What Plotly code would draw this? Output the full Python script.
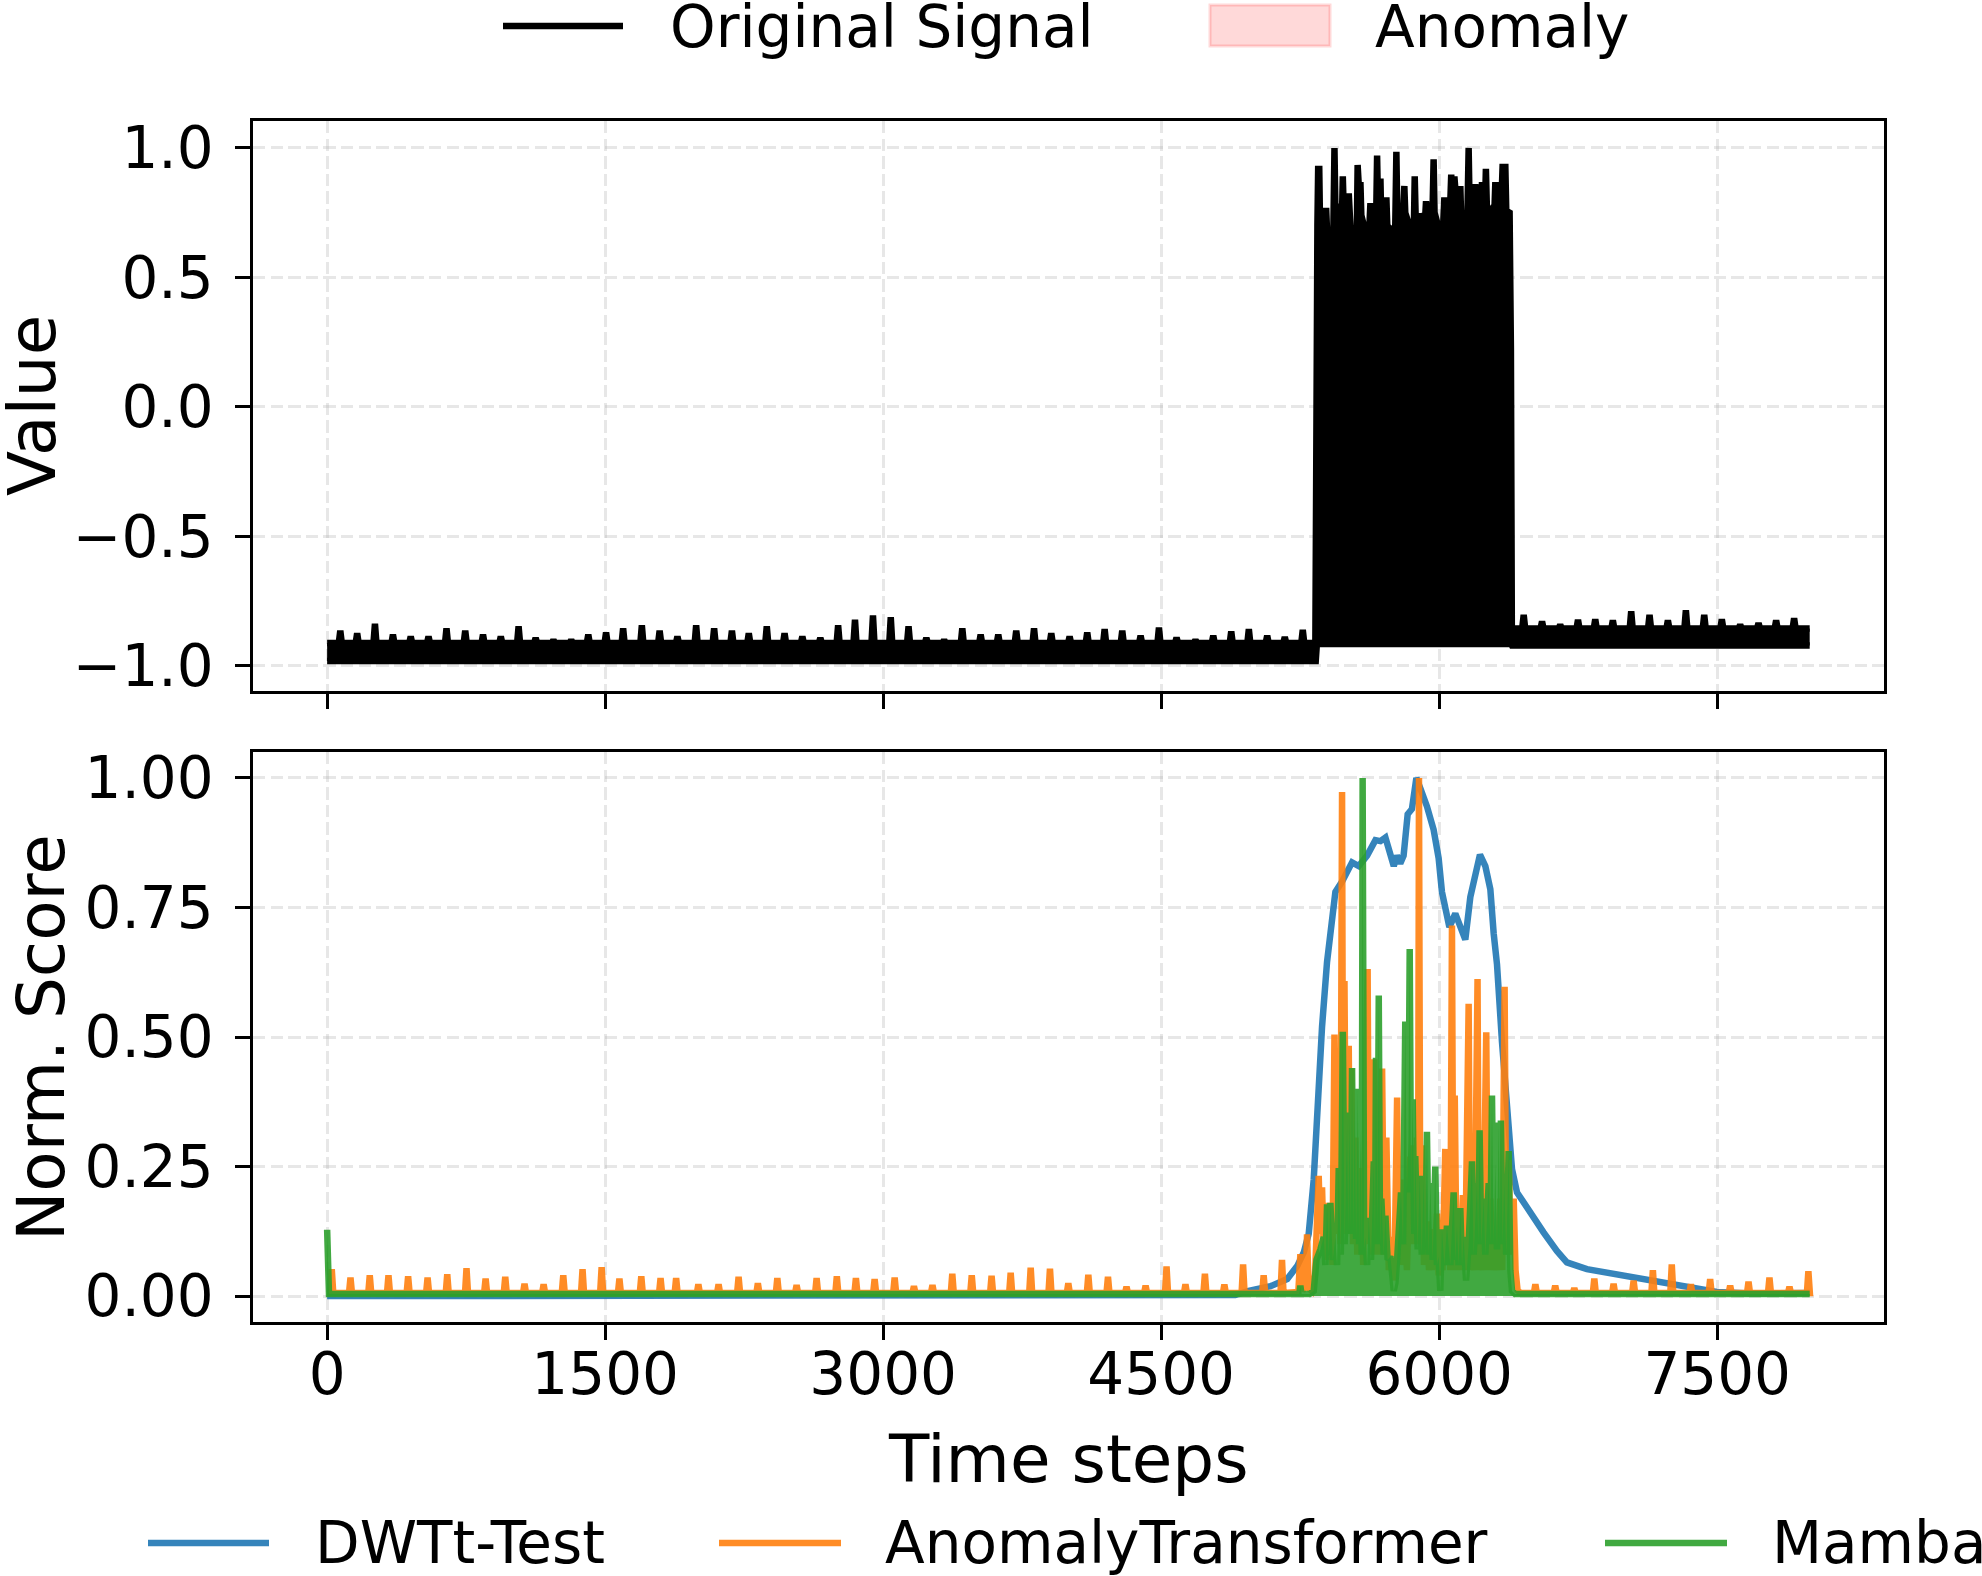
import plotly.graph_objects as go
from plotly.subplots import make_subplots

# ---------------- data ----------------
time_ticks = [0, 1500, 3000, 4500, 6000, 7500]
time_tick_text = ["0", "1500", "3000", "4500", "6000", "7500"]
value_ticks = [-1.0, -0.5, 0.0, 0.5, 1.0]
value_tick_text = ["\u22121.0", "\u22120.5", "0.0", "0.5", "1.0"]
score_ticks = [0.0, 0.25, 0.5, 0.75, 1.0]
score_tick_text = ["0.00", "0.25", "0.50", "0.75", "1.00"]

anomaly_start = 5300
anomaly_end = 6421
t_end = 7999

# original signal: band edges (lower, upper) of the normal oscillation
signal_band_pre = (-0.982, -0.912)
signal_band_post = (-0.922, -0.856)
signal_floor_anomaly = -0.916

# periodic peaks before the anomaly
signal_pre_peak_t = [71, 162, 258, 355, 451, 547, 644, 745, 841, 937, 1033, 1125, 1221, 1317,
                     1409, 1505, 1597, 1698, 1794, 1890, 1991, 2088, 2184, 2275, 2372, 2468,
                     2564, 2661, 2757, 2848, 2945, 3041, 3137, 3233, 3329, 3427, 3526, 3621,
                     3718, 3814, 3907, 4006, 4101, 4195, 4290, 4389, 4488, 4583, 4685, 4781,
                     4878, 4973, 5072, 5167, 5264]
signal_pre_peak_v = [-0.864, -0.874, -0.838, -0.880, -0.887, -0.887, -0.855, -0.864, -0.880,
                     -0.887, -0.848, -0.893, -0.900, -0.900, -0.880, -0.871, -0.855, -0.844,
                     -0.864, -0.887, -0.844, -0.855, -0.864, -0.874, -0.848, -0.874, -0.887,
                     -0.893, -0.844, -0.822, -0.806, -0.812, -0.848, -0.893, -0.900, -0.855,
                     -0.880, -0.880, -0.864, -0.855, -0.874, -0.887, -0.871, -0.858, -0.864,
                     -0.884, -0.852, -0.891, -0.900, -0.884, -0.867, -0.858, -0.884, -0.889,
                     -0.861]

# upper edge of the signal inside the anomaly window
signal_anomaly_top = [
    (5336, 0.50), (5343, 0.70), (5347, 0.919), (5353, 0.919), (5358, 0.66), (5372, 0.66),
    (5386, 0.70), (5390, 0.768), (5395, 0.68), (5413, 0.676), (5424, 0.412), (5431, 0.72),
    (5435, 1.00), (5440, 0.77), (5462, 0.772), (5472, 0.618), (5477, 0.75), (5480, 0.890),
    (5485, 0.76), (5508, 0.76), (5512, 0.824), (5517, 0.76), (5526, 0.70), (5535, 0.50),
    (5546, 0.662), (5556, 0.70), (5560, 0.934), (5565, 0.78), (5572, 0.78), (5575, 0.868),
    (5580, 0.74), (5607, 0.662), (5620, 0.632), (5626, 0.74), (5629, 0.787), (5634, 0.74),
    (5647, 0.76), (5661, 0.78), (5665, 0.971), (5670, 0.78), (5679, 0.78), (5683, 0.882),
    (5688, 0.70), (5701, 0.676), (5711, 0.72), (5715, 0.809), (5720, 0.70), (5749, 0.676),
    (5763, 0.70), (5769, 0.985), (5774, 0.75), (5799, 0.75), (5808, 0.78), (5812, 0.853),
    (5817, 0.75), (5844, 0.676), (5853, 0.669), (5864, 0.72), (5868, 0.890), (5873, 0.74),
    (5895, 0.735), (5916, 0.735), (5925, 0.74), (5929, 0.794), (5934, 0.72), (5943, 0.706),
    (5958, 0.551), (5966, 0.72), (5970, 0.956), (5975, 0.75), (5997, 0.691), (6012, 0.544),
    (6019, 0.691), (6024, 0.75), (6028, 0.809), (6033, 0.75), (6042, 0.74), (6058, 0.75),
    (6065, 0.897), (6070, 0.78), (6078, 0.78), (6082, 0.890), (6087, 0.78), (6096, 0.76),
    (6110, 0.76), (6114, 0.853), (6119, 0.72), (6128, 0.618), (6141, 0.309), (6155, 0.72),
    (6159, 1.00), (6164, 0.78), (6182, 0.779), (6191, 0.78), (6195, 0.860), (6200, 0.77),
    (6222, 0.78), (6228, 0.80), (6231, 0.868), (6236, 0.77), (6243, 0.772), (6248, 0.80),
    (6252, 0.919), (6257, 0.78), (6267, 0.76), (6285, 0.757), (6299, 0.78), (6303, 0.868),
    (6308, 0.74), (6315, 0.743), (6326, 0.78), (6330, 0.868), (6336, 0.80), (6342, 0.926),
    (6357, 0.926), (6362, 0.757), (6380, 0.750), (6387, 0.221),
]
# small upward bumps of the lower edge inside the anomaly
signal_anomaly_floor_bump_t = [5365, 5575, 5629, 5773, 5988, 6177, 6222]
signal_anomaly_floor_bump_v = [-0.875, -0.868, -0.875, -0.872, -0.870, -0.868, -0.878]

# periodic peaks after the anomaly
signal_post_peak_t = [6456, 6555, 6653, 6749, 6842, 6937, 7036, 7135, 7234, 7331, 7430, 7525,
                      7624, 7723, 7818, 7915]
signal_post_peak_v = [-0.803, -0.829, -0.842, -0.822, -0.820, -0.825, -0.790, -0.803, -0.825,
                      -0.786, -0.803, -0.820, -0.842, -0.835, -0.825, -0.816]

# DWTt-Test score
dwtt_points = [
    (0, 0.0), (4900, 0.002), (4972, 0.010), (5090, 0.019), (5180, 0.033), (5234, 0.058),
    (5270, 0.085), (5296, 0.120), (5323, 0.225), (5341, 0.370), (5368, 0.520), (5395, 0.645),
    (5422, 0.720), (5440, 0.780), (5476, 0.800), (5503, 0.820), (5530, 0.837), (5566, 0.830),
    (5611, 0.850), (5656, 0.880), (5683, 0.878), (5710, 0.885), (5728, 0.860), (5755, 0.830),
    (5772, 0.850), (5790, 0.835), (5808, 0.850), (5830, 0.930), (5853, 0.940), (5877, 1.000),
    (5898, 0.980), (5934, 0.945), (5970, 0.900), (5997, 0.845), (6015, 0.780), (6033, 0.750),
    (6055, 0.712), (6087, 0.738), (6123, 0.700), (6141, 0.688), (6168, 0.770), (6195, 0.820),
    (6220, 0.852), (6249, 0.830), (6276, 0.785), (6294, 0.700), (6312, 0.640), (6339, 0.490),
    (6366, 0.345), (6393, 0.245), (6420, 0.200), (6438, 0.190), (6492, 0.165), (6563, 0.123),
    (6635, 0.087), (6689, 0.065), (6797, 0.052), (6959, 0.042), (7139, 0.029), (7318, 0.019),
    (7498, 0.008), (7678, 0.005), (7999, 0.006),
]

# AnomalyTransformer score
at_base = 0.006
at_pre_peak_t = [25, 126, 230, 331, 437, 542, 648, 752, 855, 961, 1065, 1168, 1274, 1378, 1481,
                 1577, 1695, 1799, 1883, 2003, 2112, 2220, 2324, 2429, 2533, 2641, 2750, 2853,
                 2954, 3062, 3166, 3266, 3373, 3478, 3585, 3688, 3796, 3900, 3999, 4107, 4213,
                 4313, 4416, 4529, 4631, 4736, 4841, 4942, 5053, 5152]
at_pre_peak_v = [0.052, 0.036, 0.040, 0.040, 0.038, 0.036, 0.042, 0.054, 0.034, 0.037, 0.024,
                 0.023, 0.040, 0.052, 0.056, 0.034, 0.038, 0.035, 0.035, 0.023, 0.023, 0.037,
                 0.025, 0.035, 0.021, 0.035, 0.038, 0.035, 0.033, 0.036, 0.019, 0.021, 0.043,
                 0.040, 0.039, 0.045, 0.055, 0.053, 0.025, 0.041, 0.037, 0.018, 0.020, 0.057,
                 0.023, 0.043, 0.022, 0.061, 0.040, 0.070]
at_anomaly_points = [
    (5240, 0.008), (5251, 0.081), (5262, 0.010), (5280, 0.020), (5287, 0.119), (5296, 0.015),
    (5312, 0.010), (5330, 0.040), (5350, 0.232), (5358, 0.120), (5368, 0.210), (5377, 0.090),
    (5386, 0.180), (5398, 0.070), (5413, 0.180), (5424, 0.060), (5435, 0.505), (5446, 0.120),
    (5458, 0.336), (5467, 0.100), (5476, 0.973), (5482, 0.150), (5489, 0.608), (5498, 0.120),
    (5512, 0.483), (5519, 0.120), (5526, 0.439), (5535, 0.100), (5548, 0.306), (5558, 0.080),
    (5575, 0.247), (5590, 0.060), (5614, 0.631), (5621, 0.100), (5629, 0.299), (5638, 0.080),
    (5650, 0.457), (5660, 0.080), (5674, 0.195), (5682, 0.080), (5692, 0.439), (5702, 0.080),
    (5715, 0.306), (5728, 0.050), (5746, 0.114), (5758, 0.030), (5773, 0.383), (5782, 0.080),
    (5791, 0.225), (5800, 0.060), (5812, 0.144), (5826, 0.050), (5844, 0.269), (5852, 0.100),
    (5862, 0.291), (5870, 0.100), (5880, 0.306), (5886, 0.100), (5891, 1.000), (5898, 0.100),
    (5907, 0.291), (5918, 0.060), (5934, 0.144), (5945, 0.050), (5961, 0.129), (5972, 0.050),
    (5988, 0.159), (5997, 0.040), (6006, 0.070), (6018, 0.050), (6033, 0.284), (6042, 0.060),
    (6051, 0.151), (6060, 0.050), (6069, 0.715), (6076, 0.100), (6084, 0.387), (6094, 0.050),
    (6105, 0.151), (6115, 0.050), (6128, 0.195), (6140, 0.050), (6159, 0.564), (6167, 0.050),
    (6177, 0.114), (6190, 0.050), (6207, 0.612), (6214, 0.050), (6222, 0.114), (6236, 0.050),
    (6254, 0.509), (6263, 0.050), (6276, 0.188), (6288, 0.050), (6303, 0.114), (6316, 0.050),
    (6330, 0.188), (6340, 0.050), (6353, 0.597), (6362, 0.080), (6375, 0.262), (6386, 0.080),
    (6402, 0.188), (6412, 0.050), (6423, 0.011), (6440, 0.006),
]
at_post_peak_t = [6519, 6626, 6729, 6837, 6941, 7049, 7153, 7255, 7358, 7462, 7570, 7669, 7782,
                  7890, 7992]
at_post_peak_v = [0.023, 0.020, 0.015, 0.034, 0.024, 0.030, 0.050, 0.061, 0.023, 0.033, 0.020,
                  0.028, 0.036, 0.018, 0.048]

# Mamba score
mamba_base = 0.004
mamba_start_points = [(0, 0.128), (10, mamba_base), (5245, mamba_base), (5251, 0.020),
                      (5257, mamba_base), (5300, mamba_base)]
mamba_anomaly_points = [
    (5323, 0.010), (5338, 0.070), (5359, 0.090), (5377, 0.114), (5386, 0.060), (5395, 0.177),
    (5404, 0.080), (5413, 0.180), (5426, 0.070), (5440, 0.114), (5449, 0.060), (5458, 0.247),
    (5469, 0.080), (5480, 0.510), (5490, 0.100), (5503, 0.335), (5510, 0.120), (5516, 0.354),
    (5523, 0.130), (5530, 0.440), (5537, 0.120), (5544, 0.383), (5552, 0.110), (5561, 0.400),
    (5568, 0.100), (5575, 0.320), (5582, 0.080), (5587, 1.000), (5595, 0.090), (5602, 0.114),
    (5611, 0.060), (5620, 0.151), (5632, 0.070), (5647, 0.260), (5654, 0.100), (5659, 0.460),
    (5667, 0.120), (5674, 0.580), (5681, 0.100), (5688, 0.188), (5701, 0.080), (5710, 0.155),
    (5722, 0.070), (5737, 0.077), (5755, 0.010), (5764, 0.026), (5773, 0.070), (5782, 0.129),
    (5794, 0.200), (5805, 0.100), (5817, 0.530), (5826, 0.200), (5834, 0.300), (5841, 0.670),
    (5848, 0.200), (5857, 0.380), (5866, 0.120), (5871, 0.270), (5884, 0.090), (5895, 0.232),
    (5906, 0.080), (5916, 0.225), (5925, 0.100), (5934, 0.317), (5943, 0.080), (5952, 0.218),
    (5965, 0.070), (5979, 0.250), (5988, 0.060), (5997, 0.077), (6006, 0.010), (6015, 0.129),
    (6028, 0.060), (6042, 0.136), (6060, 0.060), (6078, 0.200), (6087, 0.070), (6096, 0.136),
    (6105, 0.060), (6114, 0.170), (6123, 0.060), (6132, 0.114), (6145, 0.030), (6159, 0.100),
    (6177, 0.260), (6186, 0.080), (6204, 0.218), (6211, 0.100), (6218, 0.320), (6227, 0.100),
    (6240, 0.188), (6249, 0.080), (6267, 0.218), (6276, 0.100), (6285, 0.387), (6294, 0.100),
    (6303, 0.260), (6312, 0.090), (6321, 0.335), (6328, 0.100), (6333, 0.339), (6342, 0.100),
    (6351, 0.218), (6362, 0.080), (6375, 0.280), (6384, 0.050), (6393, 0.010), (6410, mamba_base),
]

# ---------------- helpers ----------------
PEAK_HALF_WIDTH = 8


def add_peaks(xs, ys, peak_t, peak_v, base, half_width=PEAK_HALF_WIDTH):
    for t, v in zip(peak_t, peak_v):
        xs.extend([t - half_width, t, t + half_width])
        ys.extend([base, v, base])


def add_points(xs, ys, points):
    for t, v in points:
        xs.append(t)
        ys.append(v)


# upper edge of the original signal
sig_up_x, sig_up_y = [0], [signal_band_pre[1]]
add_peaks(sig_up_x, sig_up_y, signal_pre_peak_t, signal_pre_peak_v, signal_band_pre[1])
sig_up_x.append(5332)
sig_up_y.append(signal_band_pre[1])
add_points(sig_up_x, sig_up_y, signal_anomaly_top)
sig_up_x.append(6392)
sig_up_y.append(signal_band_post[1])
add_peaks(sig_up_x, sig_up_y, signal_post_peak_t, signal_post_peak_v, signal_band_post[1])
sig_up_x.append(t_end)
sig_up_y.append(signal_band_post[1])

# lower edge of the original signal
sig_lo_x, sig_lo_y = [0, 5334], [signal_band_pre[0], signal_band_pre[0]]
sig_lo_x.append(5340)
sig_lo_y.append(signal_floor_anomaly)
add_peaks(sig_lo_x, sig_lo_y, signal_anomaly_floor_bump_t, signal_anomaly_floor_bump_v,
          signal_floor_anomaly, 6)
sig_lo_x.extend([6389, 6393, t_end])
sig_lo_y.extend([signal_floor_anomaly, signal_band_post[0], signal_band_post[0]])

# scores
dwtt_x, dwtt_y = [], []
add_points(dwtt_x, dwtt_y, dwtt_points)

at_x, at_y = [0], [at_base]
add_peaks(at_x, at_y, at_pre_peak_t, at_pre_peak_v, at_base)
add_points(at_x, at_y, at_anomaly_points)
add_peaks(at_x, at_y, at_post_peak_t, at_post_peak_v, at_base)
at_x.append(t_end)
at_y.append(at_base)

mamba_x, mamba_y = [], []
add_points(mamba_x, mamba_y, mamba_start_points)
add_points(mamba_x, mamba_y, mamba_anomaly_points)
mamba_x.append(t_end)
mamba_y.append(mamba_base)

# ---------------- styling ----------------
W, H = 1982, 1576
PLOT_L, PLOT_R, PLOT_T, PLOT_B = 253, 1884, 121, 1322
FONT = "DejaVu Sans"
TICK_SIZE = 58
LABEL_SIZE = 66
LW = 6.5
SPINE = 3.3
BLACK = "#000000"
BLUE = "rgba(31,119,180,0.9)"
ORANGE = "rgba(255,127,14,0.9)"
GREEN = "rgba(44,160,44,0.9)"
PINK = "rgba(255,0,0,0.15)"
GRID = "rgba(176,176,176,0.3)"


def px_x(x):
    return (x - PLOT_L) / (PLOT_R - PLOT_L)


def px_y(y):
    return (PLOT_B - y) / (PLOT_B - PLOT_T)


gap = (752 - 691) / (PLOT_B - PLOT_T)
fig = make_subplots(rows=2, cols=1, shared_xaxes=True, vertical_spacing=gap)

# anomaly window on both panels
for r in (1, 2):
    fig.add_vrect(x0=anomaly_start, x1=anomaly_end, fillcolor=PINK,
                  line=dict(color=PINK, width=3), layer="below", row=r, col=1)

fig.add_trace(go.Scatter(x=sig_lo_x, y=sig_lo_y, mode="lines", name="Original Signal",
                         line=dict(color=BLACK, width=LW), showlegend=False), row=1, col=1)
fig.add_trace(go.Scatter(x=sig_up_x, y=sig_up_y, mode="lines", name="Original Signal",
                         line=dict(color=BLACK, width=LW), fill="tonexty", fillcolor=BLACK,
                         showlegend=False), row=1, col=1)

fig.add_trace(go.Scatter(x=dwtt_x, y=dwtt_y, mode="lines", name="DWTt-Test",
                         line=dict(color=BLUE, width=LW), showlegend=False), row=2, col=1)
fig.add_trace(go.Scatter(x=at_x, y=at_y, mode="lines", name="AnomalyTransformer",
                         line=dict(color=ORANGE, width=LW), showlegend=False), row=2, col=1)
fig.add_trace(go.Scatter(x=mamba_x, y=mamba_y, mode="lines", name="Mamba",
                         line=dict(color=GREEN, width=LW), fill="tozeroy", fillcolor=GREEN,
                         showlegend=False), row=2, col=1)

axis_common = dict(showline=True, linewidth=SPINE, linecolor=BLACK, mirror=True,
                   ticks="outside", ticklen=14.6, tickwidth=SPINE, tickcolor=BLACK,
                   showgrid=True, gridcolor=GRID, gridwidth=SPINE, griddash="12.3px,5.3px",
                   zeroline=False, automargin=False,
                   tickfont=dict(size=TICK_SIZE, color=BLACK, family=FONT))

fig.update_xaxes(range=[-400, 8400], tickvals=time_ticks, ticktext=time_tick_text,
                 **axis_common)
fig.update_xaxes(showticklabels=False, row=1, col=1)
fig.update_xaxes(showticklabels=True, ticklabelstandoff=-15, row=2, col=1)
fig.update_yaxes(range=[-1.0975, 1.104], tickvals=value_ticks, ticktext=value_tick_text,
                 ticklabelstandoff=10, row=1, col=1, **axis_common)
fig.update_yaxes(range=[-0.05, 1.05], tickvals=score_ticks, ticktext=score_tick_text,
                 ticklabelstandoff=10, row=2, col=1, **axis_common)

annotations = []
# axis titles
for text, xc, y0, y1 in [("Value", 32, 121, 691), ("Norm. Score", 41, 752, 1322)]:
    annotations.append(dict(text=text, textangle=-90, x=px_x(xc), y=px_y((y0 + y1) / 2),
                            xref="paper", yref="paper", xanchor="center", yanchor="middle",
                            showarrow=False,
                            font=dict(size=LABEL_SIZE, family=FONT, color=BLACK)))
annotations.append(dict(text="Time steps", x=px_x((PLOT_L + PLOT_R) / 2), y=px_y(1459),
                        xref="paper", yref="paper", xanchor="center", yanchor="middle",
                        showarrow=False, font=dict(size=LABEL_SIZE, family=FONT, color=BLACK)))

# ---------------- legends (drawn as figure elements) ----------------
shapes_extra = []

top_y = 26
shapes_extra.append(dict(type="line", xref="paper", yref="paper", x0=px_x(503), x1=px_x(623),
                         y0=px_y(top_y), y1=px_y(top_y), line=dict(color=BLACK, width=LW)))
annotations.append(dict(text="Original Signal", x=px_x(668), y=px_y(top_y + 1), xref="paper",
                        yref="paper", xanchor="left", yanchor="middle", showarrow=False,
                        font=dict(size=TICK_SIZE, family=FONT, color=BLACK)))
shapes_extra.append(dict(type="rect", xref="paper", yref="paper", x0=px_x(1210), x1=px_x(1330),
                         y0=px_y(46), y1=px_y(5), fillcolor=PINK,
                         line=dict(color=PINK, width=3)))
annotations.append(dict(text="Anomaly", x=px_x(1373), y=px_y(top_y + 1), xref="paper",
                        yref="paper", xanchor="left", yanchor="middle", showarrow=False,
                        font=dict(size=TICK_SIZE, family=FONT, color=BLACK)))

bot_y = 1543
for name, color, x0, x1, xt in [("DWTt-Test", BLUE, 148, 269, 313),
                                 ("AnomalyTransformer", ORANGE, 719, 841, 883),
                                 ("Mamba", GREEN, 1605, 1727, 1770)]:
    shapes_extra.append(dict(type="line", xref="paper", yref="paper", x0=px_x(x0), x1=px_x(x1),
                             y0=px_y(bot_y), y1=px_y(bot_y), line=dict(color=color, width=LW)))
    annotations.append(dict(text=name, x=px_x(xt), y=px_y(bot_y), xref="paper", yref="paper",
                            xanchor="left", yanchor="middle", showarrow=False,
                            font=dict(size=TICK_SIZE, family=FONT, color=BLACK)))

for s in shapes_extra:
    fig.add_shape(**s)

fig.update_layout(width=W, height=H, margin=dict(l=PLOT_L, r=W - PLOT_R, t=PLOT_T, b=H - PLOT_B),
                  paper_bgcolor="white", plot_bgcolor="white", showlegend=False,
                  font=dict(family=FONT, size=TICK_SIZE, color=BLACK),
                  annotations=annotations)

fig.write_html("out.html")
